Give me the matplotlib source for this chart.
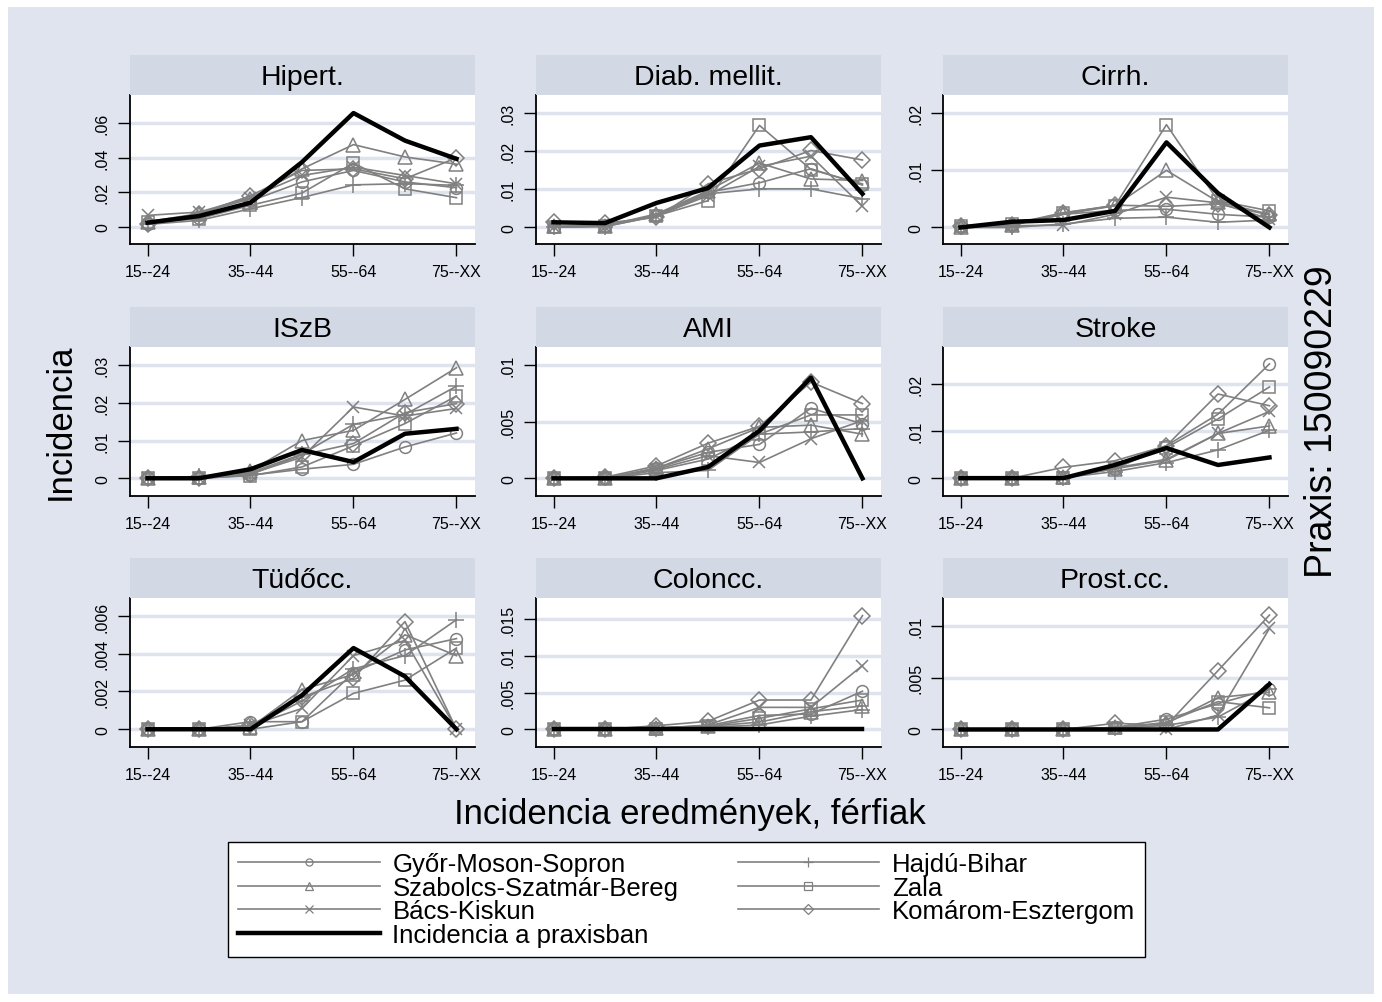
import matplotlib
matplotlib.use('Agg')
import matplotlib.pyplot as plt
from matplotlib.patches import Rectangle
from matplotlib.ticker import FuncFormatter
from matplotlib.lines import Line2D

plt.rcParams['font.family'] = ['Liberation Sans', 'DejaVu Sans']

# ---------------- data ----------------
age_groups = ["15--24", "25--34", "35--44", "45--54", "55--64", "65--74", "75--XX"]
shown_ticks = [0, 2, 4, 6]
diseases = ["Hipert.", "Diab. mellit.", "Cirrh.", "ISzB", "AMI", "Stroke",
            "Tüdőcc.", "Coloncc.", "Prost.cc."]
region_names = ["Győr-Moson-Sopron", "Szabolcs-Szatmár-Bereg", "Bács-Kiskun",
                "Hajdú-Bihar", "Zala", "Komárom-Esztergom"]
practice_name = "Incidencia a praxisban"

# one row per disease (same order as `diseases`), one value per age group
gyor = [
    [0.0020, 0.0050, 0.0150, 0.0260, 0.0326, 0.0260, 0.0226],
    [0.0002, 0.0003, 0.0032, 0.0092, 0.0117, 0.0154, 0.0111],
    [0.0001, 0.0004, 0.0023, 0.0030, 0.0032, 0.0023, 0.0018],
    [0.0000, 0.0000, 0.0008, 0.0024, 0.0037, 0.0083, 0.0120],
    [0.0000, 0.0000, 0.0009, 0.0023, 0.0030, 0.0062, 0.0048],
    [0.0000, 0.0000, 0.0002, 0.0020, 0.0069, 0.0136, 0.0243],
    [0.0000, 0.0000, 0.0004, 0.0004, 0.0030, 0.0042, 0.0048],
    [0.0000, 0.0000, 0.0002, 0.0005, 0.0019, 0.0021, 0.0052],
    [0.0000, 0.0000, 0.0000, 0.0002, 0.0010, 0.0025, 0.0039],
]
szabolcs = [
    [0.0030, 0.0077, 0.0163, 0.0335, 0.0475, 0.0404, 0.0362],
    [0.0003, 0.0004, 0.0035, 0.0096, 0.0169, 0.0127, 0.0123],
    [0.0001, 0.0005, 0.0023, 0.0038, 0.0100, 0.0045, 0.0023],
    [0.0000, 0.0003, 0.0020, 0.0100, 0.0127, 0.0209, 0.0293],
    [0.0000, 0.0000, 0.0009, 0.0026, 0.0045, 0.0047, 0.0039],
    [0.0000, 0.0000, 0.0002, 0.0020, 0.0038, 0.0095, 0.0111],
    [0.0000, 0.0000, 0.0001, 0.0021, 0.0029, 0.0050, 0.0039],
    [0.0000, 0.0000, 0.0002, 0.0004, 0.0010, 0.0024, 0.0032],
    [0.0000, 0.0000, 0.0000, 0.0002, 0.0006, 0.0031, 0.0036],
]
bacs = [
    [0.0067, 0.0086, 0.0170, 0.0297, 0.0345, 0.0297, 0.0249],
    [0.0001, 0.0002, 0.0030, 0.0083, 0.0160, 0.0187, 0.0055],
    [0.0000, 0.0003, 0.0004, 0.0023, 0.0053, 0.0043, 0.0015],
    [0.0000, 0.0000, 0.0012, 0.0056, 0.0189, 0.0165, 0.0185],
    [0.0000, 0.0000, 0.0008, 0.0020, 0.0014, 0.0035, 0.0051],
    [0.0000, 0.0000, 0.0003, 0.0022, 0.0040, 0.0095, 0.0142],
    [0.0000, 0.0000, 0.0002, 0.0011, 0.0039, 0.0047, 0.0000],
    [0.0000, 0.0000, 0.0001, 0.0006, 0.0030, 0.0030, 0.0087],
    [0.0000, 0.0000, 0.0000, 0.0001, 0.0000, 0.0014, 0.0098],
]
hajdu = [
    [0.0015, 0.0038, 0.0105, 0.0170, 0.0243, 0.0250, 0.0240],
    [0.0000, 0.0002, 0.0029, 0.0088, 0.0101, 0.0101, 0.0075],
    [0.0000, 0.0000, 0.0006, 0.0016, 0.0018, 0.0009, 0.0013],
    [0.0000, 0.0005, 0.0015, 0.0064, 0.0143, 0.0169, 0.0244],
    [0.0000, 0.0000, 0.0005, 0.0007, 0.0039, 0.0041, 0.0044],
    [0.0000, 0.0000, 0.0001, 0.0014, 0.0033, 0.0060, 0.0102],
    [0.0000, 0.0000, 0.0001, 0.0015, 0.0032, 0.0039, 0.0058],
    [0.0000, 0.0000, 0.0001, 0.0003, 0.0006, 0.0018, 0.0027],
    [0.0000, 0.0000, 0.0000, 0.0001, 0.0004, 0.0012, 0.0039],
]
zala = [
    [0.0030, 0.0048, 0.0125, 0.0196, 0.0368, 0.0220, 0.0169],
    [0.0000, 0.0004, 0.0030, 0.0070, 0.0268, 0.0152, 0.0114],
    [0.0003, 0.0006, 0.0026, 0.0038, 0.0180, 0.0047, 0.0029],
    [0.0000, 0.0000, 0.0007, 0.0030, 0.0086, 0.0145, 0.0218],
    [0.0000, 0.0000, 0.0007, 0.0017, 0.0039, 0.0056, 0.0056],
    [0.0000, 0.0000, 0.0000, 0.0022, 0.0065, 0.0126, 0.0194],
    [0.0000, 0.0000, 0.0000, 0.0004, 0.0019, 0.0026, 0.0043],
    [0.0000, 0.0000, 0.0001, 0.0004, 0.0015, 0.0028, 0.0040],
    [0.0000, 0.0000, 0.0000, 0.0001, 0.0007, 0.0027, 0.0021],
]
komarom = [
    [0.0015, 0.0077, 0.0180, 0.0326, 0.0335, 0.0278, 0.0399],
    [0.0015, 0.0011, 0.0026, 0.0114, 0.0154, 0.0202, 0.0177],
    [0.0002, 0.0005, 0.0025, 0.0039, 0.0037, 0.0041, 0.0022],
    [0.0000, 0.0000, 0.0010, 0.0062, 0.0092, 0.0174, 0.0198],
    [0.0000, 0.0001, 0.0011, 0.0031, 0.0046, 0.0085, 0.0066],
    [0.0000, 0.0000, 0.0023, 0.0037, 0.0069, 0.0179, 0.0154],
    [0.0000, 0.0000, 0.0002, 0.0017, 0.0027, 0.0057, 0.0000],
    [0.0000, 0.0000, 0.0005, 0.0011, 0.0040, 0.0040, 0.0155],
    [0.0000, 0.0000, 0.0000, 0.0006, 0.0004, 0.0057, 0.0111],
]
praxis = [
    [0.0025, 0.0063, 0.0140, 0.0374, 0.0657, 0.0498, 0.0393],
    [0.0013, 0.0011, 0.0064, 0.0103, 0.0215, 0.0237, 0.0088],
    [0.0000, 0.0010, 0.0013, 0.0029, 0.0149, 0.0060, 0.0000],
    [0.0000, 0.0000, 0.0024, 0.0075, 0.0043, 0.0118, 0.0131],
    [0.0000, 0.0000, 0.0000, 0.0010, 0.0042, 0.0089, 0.0000],
    [0.0000, 0.0000, 0.0000, 0.0028, 0.0064, 0.0028, 0.0044],
    [0.0000, 0.0000, 0.0000, 0.0018, 0.0043, 0.0028, 0.0000],
    [0.0000, 0.0000, 0.0000, 0.0000, 0.0000, 0.0000, 0.0000],
    [0.0000, 0.0000, 0.0000, 0.0000, 0.0000, 0.0000, 0.0044],
]
y_ticks = [
    [0, 0.02, 0.04, 0.06],
    [0, 0.01, 0.02, 0.03],
    [0, 0.01, 0.02],
    [0, 0.01, 0.02, 0.03],
    [0, 0.005, 0.01],
    [0, 0.01, 0.02],
    [0, 0.002, 0.004, 0.006],
    [0, 0.005, 0.01, 0.015],
    [0, 0.005, 0.01],
]

# ---------------- style / layout ----------------
W, H = 1382, 1003
BG = '#DFE4EF'
STRIP = '#D3D9E4'
GRID = '#DEE3EE'
GRAY = '#808080'
markers = ['o', '^', 'x', '+', 's', 'D']
msizes = [8.5, 9.5, 8.5, 11, 8.5, 8]
ylims = [(-0.0098, 0.0761), (-0.0044, 0.0348), (-0.0029, 0.0232),
         (-0.0047, 0.0348), (-0.00156, 0.0116), (-0.0038, 0.0279),
         (-0.00094, 0.00695), (-0.0024, 0.0179), (-0.0017, 0.01275)]
col_left = [130, 536, 943]
row_top = [96, 348, 599]
pw, ph, sh = 345, 149, 40

regions = [gyor, szabolcs, bacs, hajdu, zala, komarom]


def fmt(v, pos):
    if abs(v) < 1e-12:
        return '0'
    s = f"{v:g}"
    return s.replace('0.', '.', 1) if s.startswith('0.') else s


fig = plt.figure(figsize=(W / 100, H / 100), dpi=100)
fig.patch.set_facecolor('white')
fig.add_artist(Rectangle((8 / W, 8 / H), (W - 16) / W, (H - 16) / H,
                         transform=fig.transFigure, facecolor=BG,
                         edgecolor='none', zorder=-10))

xs = list(range(1, len(age_groups) + 1))
for i, name in enumerate(diseases):
    r, c = divmod(i, 3)
    l, t = col_left[c], row_top[r]
    ax = fig.add_axes([l / W, 1 - (t + ph) / H, pw / W, ph / H])
    ax.set_facecolor('white')
    for k, reg in enumerate(regions):
        ax.plot(xs, reg[i], color=GRAY, lw=1.2, marker=markers[k],
                ms=msizes[k], mfc='none', mec=GRAY, mew=1.1, zorder=3)
    ax.plot(xs, praxis[i], color='black', lw=3.2, zorder=5)
    ax.set_xlim(0.66, 7.36)
    ax.set_ylim(*ylims[i])
    ax.set_xticks([xs[j] for j in shown_ticks])
    ax.set_xticklabels([age_groups[j] for j in shown_ticks])
    ax.set_yticks(y_ticks[i])
    ax.yaxis.set_major_formatter(FuncFormatter(fmt))
    ax.grid(axis='y', color=GRID, lw=2.5)
    ax.set_axisbelow(True)
    for s in ['top', 'right']:
        ax.spines[s].set_visible(False)
    for s in ['left', 'bottom']:
        ax.spines[s].set_linewidth(1.3)
        ax.spines[s].set_color('black')
    ax.tick_params(length=8.4, width=1.0, pad=6, labelsize=11.5)
    ax.tick_params(axis='y', labelrotation=90)
    for lbl in ax.get_yticklabels():
        lbl.set_va('center')
    sa = fig.add_axes([l / W, 1 - t / H, pw / W, sh / H])
    sa.set_facecolor(STRIP)
    sa.set_xticks([])
    sa.set_yticks([])
    for s in sa.spines.values():
        s.set_visible(False)
    sa.text(0.5, 0.45, name, ha='center', va='center', fontsize=20.5,
            transform=sa.transAxes)

fig.text(60 / W, 1 - 422 / H, 'Incidencia', rotation=90, ha='center',
         va='center', fontsize=25)
fig.text(690 / W, 1 - 815 / H, 'Incidencia eredmények, férfiak',
         ha='center', va='center', fontsize=25)
fig.text(1322 / W, 1 - 422 / H, 'Praxis: 150090229', rotation=90,
         ha='center', va='center', fontsize=27)

handles = []
for k in range(len(region_names)):
    handles.append(Line2D([], [], color=GRAY, lw=1.2, marker=markers[k],
                          ms=msizes[k] * 0.6, mfc='none', mec=GRAY, mew=0.9))
prax_handle = Line2D([], [], color='black', lw=3.2)
order_h = [handles[0], handles[1], handles[2], prax_handle,
           handles[3], handles[4], handles[5]]
order_l = [region_names[0], region_names[1], region_names[2], practice_name,
           region_names[3], region_names[4], region_names[5]]
leg = fig.legend(order_h, order_l, ncol=2, loc='upper left',
                 bbox_to_anchor=(228 / W, 1 - 843 / H),
                 frameon=True, fancybox=False,
                 edgecolor='black', facecolor='white', fontsize=18.5,
                 handlelength=5.5, handletextpad=0.5, columnspacing=2.3,
                 labelspacing=-0.02, borderpad=0.4, borderaxespad=0.0,
                 framealpha=1)
leg.get_frame().set_linewidth(1.0)

fig.savefig('out.png', dpi=100, facecolor=fig.get_facecolor())
